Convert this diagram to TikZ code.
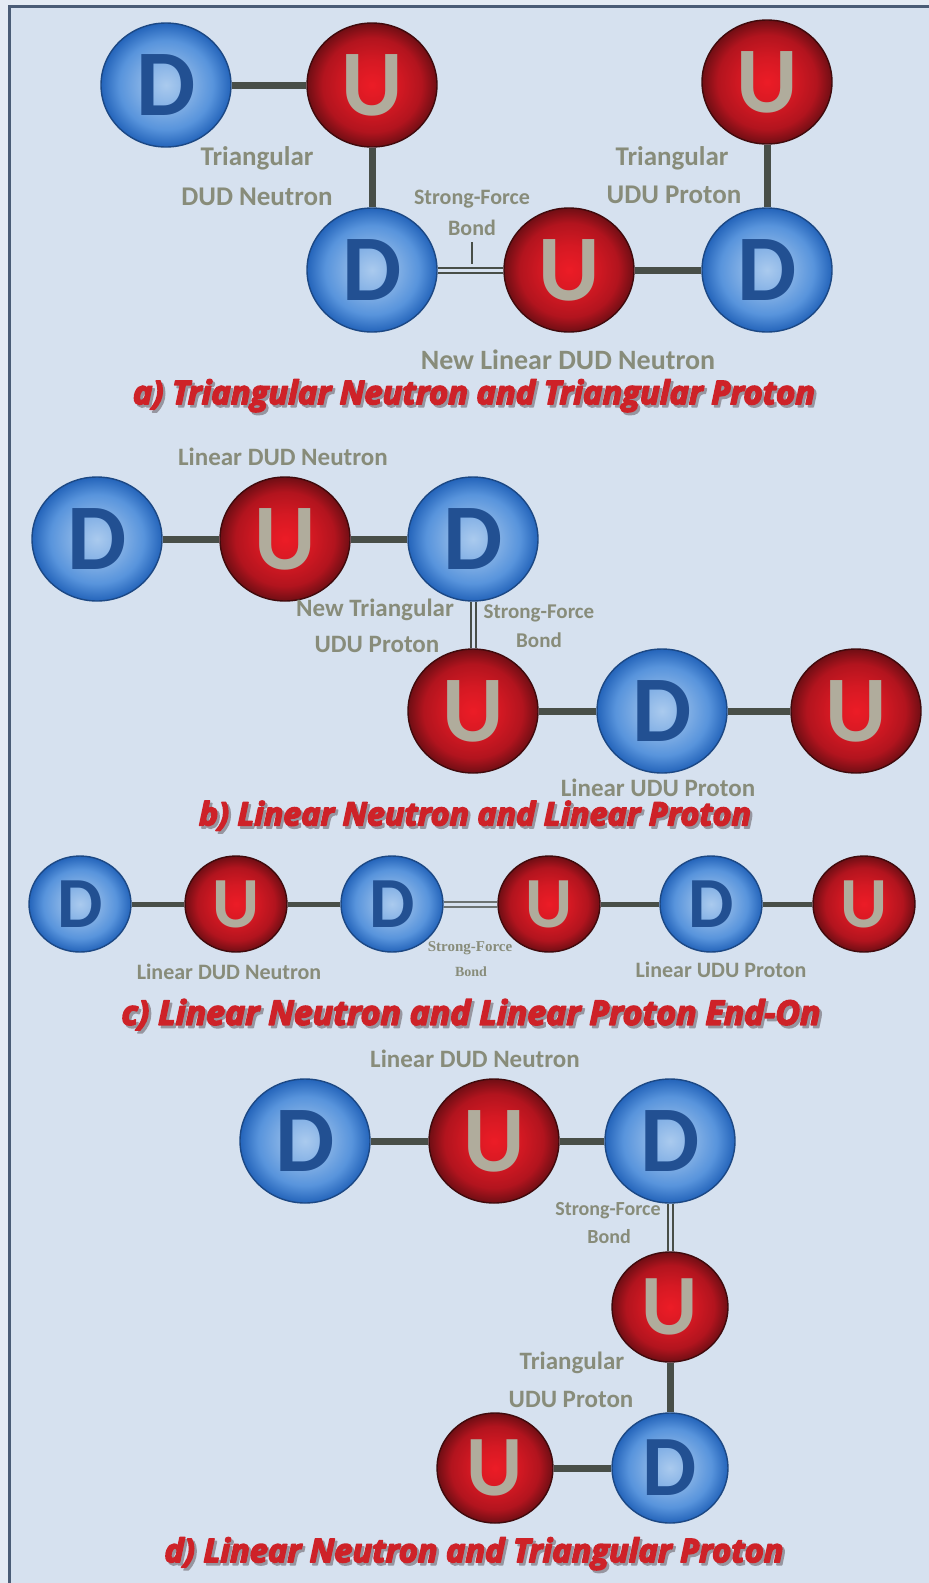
\documentclass[tikz,border=0pt]{standalone}
\usepackage{fontspec}
\usetikzlibrary{shapes.geometric}
\newfontfamily\qfont{Carlito}
\newfontfamily\ttlfont{Open Sans}
\newfontfamily\serffont{Liberation Serif}
\definecolor{bg}{RGB}{214,225,239}
\definecolor{outerbg}{RGB}{228,235,244}
\definecolor{framec}{RGB}{74,92,118}
\definecolor{bondc}{RGB}{72,78,72}
\definecolor{lblc}{RGB}{136,140,122}
\definecolor{titlered}{RGB}{206,34,40}
\definecolor{titlesh}{RGB}{150,150,160}
\definecolor{dl}{RGB}{170,202,238}
\definecolor{dm}{RGB}{88,148,220}
\definecolor{de}{RGB}{36,100,186}
\definecolor{dout}{RGB}{28,72,132}
\definecolor{dtext}{RGB}{34,80,146}
\definecolor{ul}{RGB}{236,28,38}
\definecolor{um}{RGB}{178,20,30}
\definecolor{ue}{RGB}{112,14,20}
\definecolor{uout}{RGB}{64,10,12}
\definecolor{utext}{RGB}{176,172,156}
\pgfdeclareradialshading{dshade}{\pgfpoint{0bp}{0bp}}{color(0bp)=(dl); color(9bp)=(dl!55!dm); color(18bp)=(dm); color(25bp)=(de); color(50bp)=(de)}
\pgfdeclareradialshading{ushade}{\pgfpoint{0bp}{0bp}}{color(0bp)=(ul); color(10bp)=(ul!60!um); color(19bp)=(um); color(25bp)=(ue); color(50bp)=(ue)}
\pgfdeclarelayer{back}
\pgfdeclarelayer{bonds}
\pgfsetlayers{back,bonds,main}
\newcommand\heavy[1]{%
  \special{pdf:literal direct 2 Tr 1.4 w 1 j}%
  \makebox[0pt][l]{\hspace{2.2pt}\raisebox{-2.4pt}{\textcolor{titlesh}{#1}}}%
  #1%
  \special{pdf:literal direct 0 Tr 0.4 w 0 j}}
\tikzset{
  ball/.style={ellipse, inner sep=0pt, line width=1.4pt, shade},
  bigq/.style={minimum width=130pt, minimum height=124pt, font=\qfont\bfseries\fontsize{94}{94}\selectfont},
  midq/.style={minimum width=116pt, minimum height=110pt, font=\qfont\bfseries\fontsize{86}{86}\selectfont},
  sball/.style={minimum width=102pt, minimum height=96pt, font=\qfont\bfseries\fontsize{72}{72}\selectfont},
  dq/.style={ball, draw=dout, shading=dshade, text=dtext},
  uq/.style={ball, draw=uout, shading=ushade, text=utext},
  bond/.style={draw=bondc, line width=7pt},
  sbond/.style={draw=bondc, line width=5pt},
  sfb/.style={draw=bondc, line width=2pt, double=bg, double distance=3pt},
  lbl/.style={text=lblc, inner sep=0pt, font=\qfont\bfseries\fontsize{27}{27}\selectfont},
  lblm/.style={lbl, font=\qfont\bfseries\fontsize{25}{25}\selectfont},
  lbls/.style={lbl, font=\qfont\bfseries\fontsize{21}{21}\selectfont},
  lblser/.style={text=lblc, inner sep=0pt, font=\serffont\bfseries\fontsize{15}{15}\selectfont},
  ttl/.style={text=titlered, inner sep=0pt, font=\ttlfont\bfseries\itshape\fontsize{30}{36}\selectfont}
}
\begin{document}
\begin{tikzpicture}[x=1pt,y=-1pt]
\useasboundingbox (0,0) rectangle (929,1583);
\begin{pgfonlayer}{back}
  \fill[outerbg] (0,0) rectangle (929,1583);
  \fill[bg] (9,6) rectangle (929,1583);
  \draw[framec, line width=3pt] (9,1583) -- (9,6) -- (929,6);
\end{pgfonlayer}

% ---------- a) ----------
\node[dq,bigq] (a1) at (166,85) {D};
\node[uq,bigq] (a2) at (372,85) {U};
\node[dq,bigq] (a3) at (372,270) {D};
\node[uq,bigq] (a4) at (569,270) {U};
\node[dq,bigq] (a5) at (767,270) {D};
\node[uq,bigq] (a6) at (767,82) {U};
\node[lbl] (la1) at (257,158) {Triangular};
\node[lbl] (la2) at (257,197) {DUD Neutron};
\node[lbl, font=\qfont\bfseries\fontsize{22}{22}\selectfont] (la3) at (472,199) {Strong-Force};
\node[lbl, font=\qfont\bfseries\fontsize{22}{22}\selectfont] (la4) at (472,228) {Bond};
\coordinate (tickA) at (472,264);
\node[lbl] (la5) at (672,158) {Triangular};
\node[lbl] (la6) at (674,195) {UDU Proton};
\node[lbl, font=\qfont\bfseries\fontsize{28}{28}\selectfont] (la7) at (568,360) {New Linear DUD Neutron};
\node[ttl] (ta) at (474,397) {\resizebox{682pt}{!}{\heavy{a) Triangular Neutron and Triangular Proton}}};

% ---------- b) ----------
\node[dq,bigq] (b1) at (97,539) {D};
\node[uq,bigq] (b2) at (285,539) {U};
\node[dq,bigq] (b3) at (473,539) {D};
\node[uq,bigq] (b4) at (473,711) {U};
\node[dq,bigq] (b5) at (662,711) {D};
\node[uq,bigq] (b6) at (856,711) {U};
\node[lblm] (lb1) at (283,457) {Linear DUD Neutron};
\node[lblm] (lb2) at (375,610) {New Triangular};
\node[lblm] (lb3) at (377,644) {UDU Proton};
\node[lbls] (lb4) at (539,613) {Strong-Force};
\node[lbls] (lb5) at (539,640) {Bond};
\node[lblm] (lb6) at (658,788) {Linear UDU Proton};
\node[ttl] (tb) at (475,817) {\resizebox{552pt}{!}{\heavy{b) Linear Neutron and Linear Proton}}};

% ---------- c) ----------
\node[dq,sball] (c1) at (80,904) {D};
\node[uq,sball] (c2) at (236,904) {U};
\node[dq,sball] (c3) at (392,904) {D};
\node[uq,sball] (c4) at (549,904) {U};
\node[dq,sball] (c5) at (711,904) {D};
\node[uq,sball] (c6) at (864,904) {U};
\node[lbls, font=\qfont\bfseries\fontsize{22}{22}\selectfont] (lc1) at (229,972) {Linear DUD Neutron};
\node[lblser] (lc2) at (470,948) {Strong-Force};
\node[lblser, font=\serffont\bfseries\fontsize{14}{14}\selectfont] (lc3) at (471,972) {Bond};
\node[lbls, font=\qfont\bfseries\fontsize{22}{22}\selectfont] (lc4) at (721,970) {Linear UDU Proton};
\node[ttl] (tc) at (471,1016) {\resizebox{699pt}{!}{\heavy{c) Linear Neutron and Linear Proton End-On}}};

% ---------- d) ----------
\node[lblm] (ld1) at (475,1059) {Linear DUD Neutron};
\node[dq,bigq] (d1) at (305,1141) {D};
\node[uq,bigq] (d2) at (494,1141) {U};
\node[dq,bigq] (d3) at (670,1141) {D};
\node[uq,midq] (d4) at (670,1307) {U};
\node[dq,midq] (d5) at (670,1468) {D};
\node[uq,midq] (d6) at (495,1468) {U};
\node[lbls, font=\qfont\bfseries\fontsize{20}{20}\selectfont] (ld2) at (608,1211) {Strong-Force};
\node[lbls, font=\qfont\bfseries\fontsize{20}{20}\selectfont] (ld3) at (609,1237) {Bond};
\node[lblm] (ld4) at (572,1363) {Triangular};
\node[lblm] (ld5) at (571,1399) {UDU Proton};
\node[ttl] (td) at (474,1555) {\resizebox{619pt}{!}{\heavy{d) Linear Neutron and Triangular Proton}}};

\begin{pgfonlayer}{bonds}
  \draw[bond] (a1) -- (a2);
  \draw[bond] (a2) -- (a3);
  \draw[sfb] (a3) -- (a4);
  \draw[bond] (a4) -- (a5);
  \draw[bond] (a6) -- (a5);
  \draw[draw=bondc, line width=2pt] (la4.south) ++(0,6) coordinate (tickTop) -- (tickA);
  \draw[bond] (b1) -- (b2);
  \draw[bond] (b2) -- (b3);
  \draw[sfb] (b3) -- (b4);
  \draw[bond] (b4) -- (b5);
  \draw[bond] (b5) -- (b6);
  \draw[sbond] (c1) -- (c2);
  \draw[sbond] (c2) -- (c3);
  \draw[sfb, draw=bondc!75!bg] (c3) -- (c4);
  \draw[sbond] (c4) -- (c5);
  \draw[sbond] (c5) -- (c6);
  \draw[bond] (d1) -- (d2);
  \draw[bond] (d2) -- (d3);
  \draw[sfb] (d3) -- (d4);
  \draw[bond] (d4) -- (d5);
  \draw[bond] (d6) -- (d5);
\end{pgfonlayer}
\end{tikzpicture}
\end{document}
